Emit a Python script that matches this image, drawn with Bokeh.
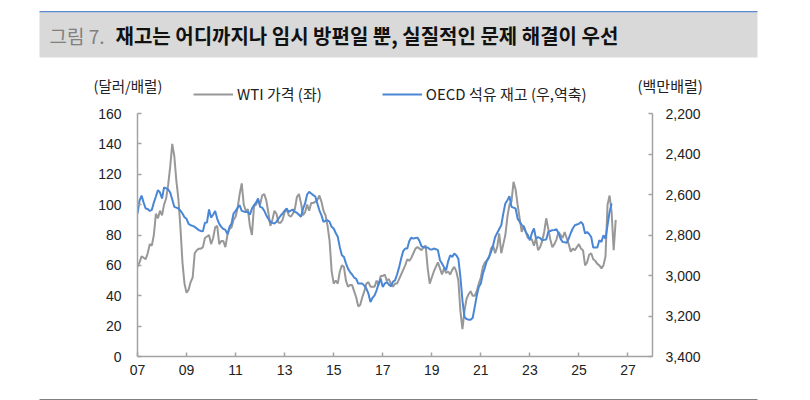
from bokeh.plotting import figure
from bokeh.layouts import column
from bokeh.models import (Range1d, LinearAxis, FixedTicker, NumeralTickFormatter,
                          Label, BoxAnnotation, Legend, LegendItem, Plot)
from bokeh.embed import file_html
from bokeh.resources import INLINE

# ---- data -------------------------------------------------------------
start_year = 2007  # both series are monthly, starting January 2007

# WTI price, USD/bbl (left axis)
wti = [
    59, 62, 66, 65, 64, 68, 74, 73, 80, 94, 91, 96,            # 2007
    93, 100, 104, 113, 125, 140, 132, 116, 104, 85, 62, 48,    # 2008
    42, 44, 49, 52, 68, 70, 71, 71, 72, 78, 79, 80,            # 2009
    74, 78, 85, 86, 74, 76, 76, 72, 80, 84, 85, 90,            # 2010
    92, 98, 107, 114, 100, 96, 97, 86, 80, 99, 100, 103,       # 2011
    100, 106, 107, 103, 95, 86, 90, 96, 94, 88, 88, 90,        # 2012
    95, 97, 93, 92, 94, 97, 105, 107, 101, 93, 95, 100,        # 2013
    96, 101, 101, 102, 103, 106, 102, 96, 93, 86, 76, 56,      # 2014
    48, 50, 48, 56, 60, 59, 50, 46, 47, 47, 43, 39,            # 2015
    33, 34, 39, 43, 48, 49, 46, 46, 46, 50, 47, 53,            # 2016
    53, 54, 50, 51, 48, 46, 48, 48, 51, 54, 57, 60,            # 2017
    64, 63, 65, 68, 71, 72, 71, 70, 72, 73, 58, 48,            # 2018
    52, 56, 59, 62, 58, 54, 58, 55, 56, 54, 57, 59,            # 2019
    56, 50, 30, 18, 30, 38, 41, 43, 40, 40, 43, 48,            # 2020
    52, 59, 62, 63, 65, 71, 73, 68, 72, 81, 68, 74,            # 2021
    80, 92, 100, 102, 115, 110, 100, 91, 82, 86, 82, 78,       # 2022
    78, 77, 73, 78, 70, 72, 76, 82, 91, 84, 77, 72,            # 2023
    74, 77, 82, 80, 78, 82, 78, 74, 69, 71, 70, 72,            # 2024
    74, 71, 70, 60, 62, 67, 68, 64, 63, 61, 60, 58,            # 2025
    60, 66, 100, 106, 95, 70, 90,                              # 2026
]

# OECD commercial oil inventories, million bbl (right axis, inverted)
oecd_stock = [
    2694, 2630, 2605, 2640, 2669, 2672, 2681, 2676, 2640, 2610, 2578, 2590,  # 2007
    2620, 2565, 2570, 2575, 2590, 2625, 2661, 2665, 2669, 2680, 2694, 2712,  # 2008
    2720, 2745, 2752, 2755, 2760, 2768, 2776, 2780, 2781, 2740, 2738, 2674,  # 2009
    2714, 2700, 2681, 2720, 2745, 2760, 2770, 2775, 2796, 2760, 2744, 2694,  # 2010
    2681, 2665, 2653, 2681, 2684, 2686, 2686, 2700, 2669, 2653, 2640, 2620,  # 2011
    2661, 2665, 2680, 2702, 2720, 2735, 2740, 2743, 2735, 2719, 2705, 2694,  # 2012
    2680, 2669, 2686, 2680, 2674, 2686, 2690, 2700, 2710, 2670, 2644, 2600,  # 2013
    2587, 2595, 2603, 2610, 2644, 2678, 2702, 2735, 2730, 2727, 2735, 2760,  # 2014
    2768, 2790, 2809, 2860, 2900, 2908, 2940, 2966, 2983, 2995, 3010, 3016,  # 2015
    3040, 3040, 3040, 3050, 3065, 3090, 3131, 3110, 3098, 3073, 3040, 3016,  # 2016
    3057, 3040, 3032, 3045, 3053, 3030, 3024, 2995, 2960, 2917, 2880, 2867,  # 2017
    2867, 2830, 2813, 2818, 2815, 2813, 2830, 2856, 2860, 2862, 2862, 2870,  # 2018
    2872, 2867, 2870, 2875, 2925, 2941, 2960, 2974, 2930, 2900, 2908, 2892,  # 2019
    2900, 2917, 3007, 3123, 3205, 3215, 3218, 3218, 3210, 3156, 3100, 3057,  # 2020
    3040, 2991, 2960, 2925, 2908, 2884, 2851, 2810, 2790, 2770, 2752, 2694,  # 2021
    2644, 2628, 2608, 2661, 2665, 2669, 2719, 2735, 2750, 2760, 2785, 2800,  # 2022
    2826, 2790, 2768, 2818, 2810, 2815, 2826, 2824, 2822, 2785, 2780, 2776,  # 2023
    2775, 2772, 2790, 2818, 2834, 2836, 2839, 2818, 2790, 2768, 2752, 2748,  # 2024
    2745, 2735, 2748, 2793, 2785, 2795, 2810, 2862, 2862, 2862, 2826, 2834,  # 2025
    2801, 2818, 2752, 2686, 2644,                                            # 2026
]

x_tick_years = [2007, 2009, 2011, 2013, 2015, 2017, 2019, 2021, 2023, 2025, 2027]
x_tick_labels = ["07", "09", "11", "13", "15", "17", "19", "21", "23", "25", "27"]
left_ticks = [0, 20, 40, 60, 80, 100, 120, 140, 160]
right_ticks = [2200, 2400, 2600, 2800, 3000, 3200, 3400]

wti_x = [start_year + i / 12 for i in range(len(wti))]
stock_x = [start_year + i / 12 for i in range(len(oecd_stock))]

# ---- page geometry (pixels) -------------------------------------------
W = 810
HEAD_H, MAIN_H, FOOT_H = 106, 284, 10
FL, FR, FT, FB = 137, 652, 113, 356          # plot frame edges on the page
BAND_L, BAND_R = 39, 757

KFONT = "Noto Sans CJK KR"
NFONT = "Liberation Sans"
AXIS_COLOR = "#a3a3a3"
TEXT_COLOR = "#222222"
WTI_COLOR = "#989898"
STOCK_COLOR = "#4a86d6"

HAS_FRAME_ALIGN = "frame_align" in Plot.properties()


def unaligned(f):
    # stacked figures keep their own frame edges
    if HAS_FRAME_ALIGN:
        f.frame_align = False
    return f


def blank(height):
    """A bare canvas whose data units are page pixels (y grows downward)."""
    f = figure(width=W, height=height, x_range=Range1d(0, W), y_range=Range1d(height, 0),
               output_backend="svg", toolbar_location=None,
               x_axis_type=None, y_axis_type=None,
               min_border=0, min_border_left=0, min_border_right=0,
               min_border_top=0, min_border_bottom=0)
    f.grid.visible = False
    f.outline_line_color = None
    f.background_fill_color = "white"
    f.border_fill_color = "white"
    return unaligned(f)


# ---- header: title band, unit captions, legend ------------------------
head = blank(HEAD_H)
head.add_layout(BoxAnnotation(left=BAND_L, right=BAND_R, top=11.5, bottom=57,
                              fill_color="#d9d9d9", fill_alpha=1, line_color=None))
head.add_layout(BoxAnnotation(left=BAND_L, right=BAND_R, top=10.5, bottom=11.8,
                              fill_color="#5a8ad0", fill_alpha=1, line_color=None))
head.add_layout(Label(x=49, y=35, text="그림 7.", text_font=KFONT,
                      text_font_size="19px", text_color="#808080",
                      text_baseline="middle", text_align="left"))
head.add_layout(Label(x=115, y=35,
                      text="재고는 어디까지나 임시 방편일 뿐, 실질적인 문제 해결이 우선",
                      text_font=KFONT, text_font_size="20px", text_font_style="bold",
                      text_color="#111111", text_baseline="middle", text_align="left"))
head.add_layout(Label(x=93, y=85, text="(달러/배럴)", text_font=KFONT,
                      text_font_size="14.5px", text_color=TEXT_COLOR,
                      text_baseline="middle", text_align="left"))
head.add_layout(Label(x=637, y=85, text="(백만배럴)", text_font=KFONT,
                      text_font_size="15px", text_color=TEXT_COLOR,
                      text_baseline="middle", text_align="left"))

# legend keys: renderers styled like the series, holding a single gap value
nan = float("nan")
wti_key = head.line([nan], [nan], line_color=WTI_COLOR, line_width=2)
stock_key = head.line([nan], [nan], line_color=STOCK_COLOR, line_width=2)
legend = Legend(items=[LegendItem(label="WTI 가격 (좌)", renderers=[wti_key]),
                       LegendItem(label="OECD 석유 재고 (우,역축)", renderers=[stock_key])],
                orientation="horizontal", location=(193, HEAD_H - 96 - 8),
                padding=0, margin=0, spacing=60, glyph_width=40, glyph_height=16,
                label_height=16, label_standoff=4, border_line_color=None,
                background_fill_alpha=0, label_text_font=KFONT,
                label_text_font_size="15px", label_text_color=TEXT_COLOR)
head.add_layout(legend, "center")

# ---- main chart -------------------------------------------------------
top_gap = FT - HEAD_H
bottom_gap = HEAD_H + MAIN_H - FB
p = figure(width=W, height=MAIN_H, x_range=Range1d(2007, 2028), y_range=Range1d(0, 160),
           output_backend="svg", toolbar_location=None,
           min_border_left=FL, min_border_right=W - FR,
           min_border_top=top_gap, min_border_bottom=bottom_gap)
unaligned(p)
p.extra_y_ranges = {"stock": Range1d(start=3400, end=2200)}
p.grid.visible = False
p.outline_line_color = None
p.background_fill_color = "white"
p.border_fill_color = "white"

right_axis = LinearAxis(y_range_name="stock")
p.add_layout(right_axis, "right")

for ax in (p.xaxis[0], p.yaxis[0], right_axis):
    ax.axis_line_color = AXIS_COLOR
    ax.axis_line_width = 1.5
    ax.major_tick_line_color = AXIS_COLOR
    ax.major_tick_line_width = 1.5
    ax.major_tick_in = 4
    ax.major_tick_out = 0
    ax.minor_tick_in = 0
    ax.minor_tick_out = 0
    ax.major_label_text_font = NFONT
    ax.major_label_text_font_size = "14px"
    ax.major_label_text_color = TEXT_COLOR

p.xaxis.ticker = FixedTicker(ticks=x_tick_years)
p.xaxis.major_label_overrides = {y: lab for y, lab in zip(x_tick_years, x_tick_labels)}
p.xaxis.major_label_standoff = 8
p.yaxis[0].ticker = FixedTicker(ticks=left_ticks)
p.yaxis[0].major_label_standoff = 16
right_axis.ticker = FixedTicker(ticks=right_ticks)
right_axis.formatter = NumeralTickFormatter(format="0,0")
right_axis.major_label_standoff = 13

p.line(wti_x, wti, line_color=WTI_COLOR, line_width=2)
p.line(stock_x, oecd_stock, line_color=STOCK_COLOR, line_width=2, y_range_name="stock")

# ---- footer rule ------------------------------------------------------
foot = blank(FOOT_H)
foot.add_layout(BoxAnnotation(left=BAND_L, right=BAND_R, top=6.6, bottom=8.2,
                              fill_color="#808080", fill_alpha=1, line_color=None))

page = column(head, p, foot, spacing=0)
open("out.html", "w").write(file_html(page, INLINE))
